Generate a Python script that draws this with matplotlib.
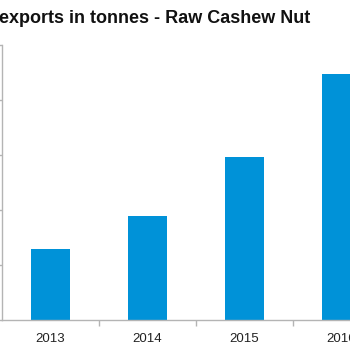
import matplotlib
matplotlib.use("Agg")
import matplotlib.pyplot as plt

years = ["2013", "2014", "2015", "2016"]
exports_tonnes = [129000, 189000, 296000, 447000]
y_ticks = [0, 100000, 200000, 300000, 400000, 500000]

bar_color = "#0092d8"
axis_color = "#b4b4b4"

fig = plt.figure(figsize=(3.5, 3.5), dpi=100)
fig.patch.set_facecolor("white")

# axes extend past the right edge of the canvas
ax = fig.add_axes([2 / 350, 30 / 350, 388 / 350, 275 / 350])
x = range(len(years))
ax.bar(x, exports_tonnes, width=0.4, color=bar_color, zorder=2)

ax.set_xlim(-0.5, len(years) - 0.5)
ax.set_ylim(y_ticks[0], y_ticks[-1])
ax.set_yticks(y_ticks)
ax.set_yticklabels([])
ax.set_xticks(list(x))
ax.set_xticklabels(years, fontsize=9.5, family="Liberation Sans", color="#222222")
ax.set_xticks([i + 0.5 for i in range(len(years) - 1)], minor=True)
ax.tick_params(axis="x", which="major", length=0, pad=9)
ax.tick_params(axis="x", which="minor", length=4, color=axis_color, width=1)
ax.tick_params(axis="y", length=3, color=axis_color, width=1)

for side in ("top", "right"):
    ax.spines[side].set_visible(False)
for side in ("left", "bottom"):
    ax.spines[side].set_color(axis_color)
    ax.spines[side].set_linewidth(1)

fig.text(-0.003, 1 - 18.5 / 350, "exports in tonnes - Raw Cashew Nut",
         fontsize=13, fontweight="bold", family="Liberation Sans",
         ha="left", va="center", color="#111111")

fig.savefig("out.png", dpi=100, facecolor="white")
